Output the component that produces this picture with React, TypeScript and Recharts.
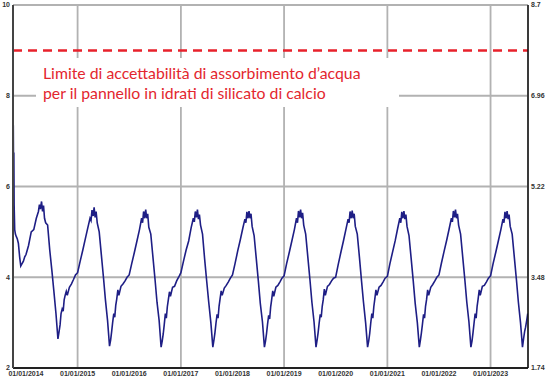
import { CartesianGrid, Line, LineChart, ReferenceLine, XAxis, YAxis } from "recharts";

const DAY = 86400000;

// sampling positions (day of year) used for every full year
const yearDays = [0, 18, 37, 55, 73, 88, 95, 102, 110, 117, 124, 131, 139, 153, 168, 183, 197, 212, 226, 234, 241, 248, 256, 263, 270, 277, 285, 292, 307, 321, 336, 350];

// start of the record, autumn 2013
const days2013 = [275, 277, 279, 281, 285, 290, 296, 303, 311, 320, 328, 337, 346, 356];
const values2013 = [7.35, 6.3, 6.75, 5.6, 5.05, 4.95, 4.9, 4.85, 4.75, 4.45, 4.25, 4.3, 4.35, 4.45];

const values2014 = [4.5, 4.7, 5.0, 5.05, 5.3, 5.45, 5.6, 5.5, 5.67, 5.45, 5.58, 5.3, 5.2, 5.15, 4.6, 4.15, 3.7, 3.2, 2.64, 2.8, 2.95, 3.2, 3.3, 3.25, 3.5, 3.6, 3.69, 3.6, 3.78, 3.85, 3.95, 4.05];
const values2015 = [4.1, 4.35, 4.6, 4.85, 5.1, 5.3, 5.25, 5.48, 5.35, 5.54, 5.32, 5.45, 5.2, 5.0, 4.5, 4.0, 3.5, 3.05, 2.48, 2.62, 2.8, 3.0, 3.2, 3.12, 3.38, 3.52, 3.72, 3.6, 3.8, 3.85, 3.92, 4.0];
const values2016 = [4.05, 4.3, 4.55, 4.8, 5.05, 5.3, 5.2, 5.45, 5.3, 5.49, 5.3, 5.4, 5.1, 4.95, 4.45, 3.95, 3.45, 3.05, 2.46, 2.6, 2.75, 2.95, 3.2, 3.1, 3.35, 3.5, 3.68, 3.58, 3.78, 3.8, 3.92, 4.0];
const values2017 = [4.1, 4.35, 4.6, 4.8, 5.1, 5.3, 5.22, 5.45, 5.32, 5.49, 5.28, 5.38, 5.15, 4.95, 4.4, 3.9, 3.45, 3.0, 2.46, 2.62, 2.78, 2.98, 3.18, 3.1, 3.36, 3.52, 3.7, 3.6, 3.76, 3.82, 3.9, 3.98];
const values2018 = [4.05, 4.3, 4.58, 4.82, 5.08, 5.28, 5.2, 5.44, 5.3, 5.46, 5.3, 5.4, 5.12, 4.92, 4.42, 3.92, 3.42, 3.02, 2.46, 2.6, 2.76, 2.96, 3.16, 3.08, 3.34, 3.5, 3.7, 3.58, 3.78, 3.82, 3.9, 3.98];
const values2019 = [4.03, 4.3, 4.55, 4.8, 5.05, 5.3, 5.2, 5.46, 5.32, 5.49, 5.3, 5.42, 5.15, 4.95, 4.45, 3.95, 3.45, 3.02, 2.46, 2.62, 2.78, 2.98, 3.18, 3.12, 3.36, 3.5, 3.74, 3.6, 3.8, 3.84, 3.92, 3.98];
const values2020 = [4.0, 4.28, 4.55, 4.8, 5.06, 5.28, 5.2, 5.45, 5.3, 5.47, 5.3, 5.4, 5.12, 4.95, 4.45, 3.92, 3.45, 3.0, 2.46, 2.6, 2.76, 2.98, 3.2, 3.1, 3.35, 3.52, 3.72, 3.6, 3.78, 3.82, 3.9, 3.98];
const values2021 = [4.02, 4.3, 4.56, 4.8, 5.08, 5.3, 5.2, 5.44, 5.3, 5.46, 5.28, 5.38, 5.12, 4.92, 4.42, 3.92, 3.42, 3.0, 2.46, 2.62, 2.78, 2.96, 3.18, 3.1, 3.36, 3.5, 3.72, 3.6, 3.78, 3.84, 3.92, 4.0];
const values2022 = [4.05, 4.32, 4.58, 4.82, 5.08, 5.3, 5.22, 5.46, 5.32, 5.49, 5.3, 5.4, 5.15, 4.95, 4.45, 3.95, 3.45, 3.02, 2.46, 2.6, 2.78, 2.98, 3.2, 3.1, 3.36, 3.52, 3.72, 3.6, 3.8, 3.82, 3.9, 3.98];
const values2023 = [4.03, 4.3, 4.55, 4.8, 5.05, 5.28, 5.2, 5.44, 5.3, 5.46, 5.28, 5.38, 5.12, 4.95, 4.45, 3.95, 3.45, 3.0, 2.46, 2.65, 2.8, 2.9, 3.05, 3.2];

const years = [2014, 2015, 2016, 2017, 2018, 2019, 2020, 2021, 2022, 2023];
const yearValues = [values2014, values2015, values2016, values2017, values2018, values2019, values2020, values2021, values2022, values2023];

const leftTicks = [2, 4, 6, 8, 10];
const rightTicks = [1.74, 3.48, 5.22, 6.96, 8.7];
const limitValue = 9;

const data = [
  ...days2013.map((d, i) => ({ t: Date.UTC(2013, 0, 1) + d * DAY, v: values2013[i] })),
  ...years.flatMap((y, k) =>
    yearValues[k].map((v, i) => ({ t: Date.UTC(y, 0, 1) + yearDays[i] * DAY, v }))
  ),
];

const xTicks = years.map((y) => Date.UTC(y, 0, 1));
const xDomain = [Date.UTC(2013, 0, 1) + 273 * DAY, Date.UTC(2023, 0, 1) + 265 * DAY];

const fmtDate = (t: number) => `01/01/${new Date(t).getUTCFullYear()}`;

const tickStyle = { fontSize: 7, fontWeight: 700, fill: "#333", fontFamily: "Liberation Sans, Arial, sans-serif" };

export default function App() {
  return (
    <div style={{ position: "absolute", left: 0, top: 0, width: 550, height: 383, background: "#fff" }}>
      <LineChart width={550} height={383} data={data} margin={{ top: 5, right: 0, bottom: 0, left: 0 }}>
        <CartesianGrid yAxisId="left" stroke="#b2b2b2" strokeWidth={1.8} />
        <XAxis
          dataKey="t"
          type="number"
          domain={xDomain}
          ticks={xTicks}
          tickFormatter={fmtDate}
          height={15}
          tickSize={0}
          tickMargin={3}
          tick={tickStyle}
          axisLine={{ stroke: "#222", strokeWidth: 2 }}
          allowDataOverflow
        />
        <YAxis
          yAxisId="left"
          domain={[2, 10]}
          ticks={leftTicks}
          width={13}
          tickSize={0}
          tickMargin={3}
          tick={tickStyle}
          axisLine={{ stroke: "#444", strokeWidth: 2 }}
        />
        <YAxis
          yAxisId="right"
          orientation="right"
          domain={[1.74, 8.7]}
          ticks={rightTicks}
          allowDataOverflow
          width={22}
          tickSize={0}
          tickMargin={3}
          tick={tickStyle}
          axisLine={{ stroke: "#111", strokeWidth: 1.5 }}
        />
        <ReferenceLine yAxisId="left" y={limitValue} stroke="#e8212b" strokeWidth={2.5} strokeDasharray="9 6" />
        {/* invisible series so the right-hand scale is drawn */}
        <Line
          yAxisId="right"
          dataKey="v"
          stroke="none"
          dot={false}
          activeDot={false}
          legendType="none"
          isAnimationActive={false}
        />
        <Line
          yAxisId="left"
          dataKey="v"
          type="linear"
          stroke="#1e1e85"
          strokeWidth={1.6}
          dot={false}
          isAnimationActive={false}
        />
      </LineChart>
      <div
        style={{
          position: "absolute",
          left: 36,
          top: 58,
          width: 363,
          height: 49,
          background: "#fff",
          color: "#e3262e",
          fontFamily: "Lato, sans-serif",
          fontSize: 15.8,
          lineHeight: "20px",
          paddingLeft: 7,
          paddingTop: 5,
          boxSizing: "border-box",
          whiteSpace: "nowrap",
        }}
      >
        <div>Limite di accettabilità di assorbimento d’acqua</div>
        <div>per il pannello in idrati di silicato di calcio</div>
      </div>
    </div>
  );
}
